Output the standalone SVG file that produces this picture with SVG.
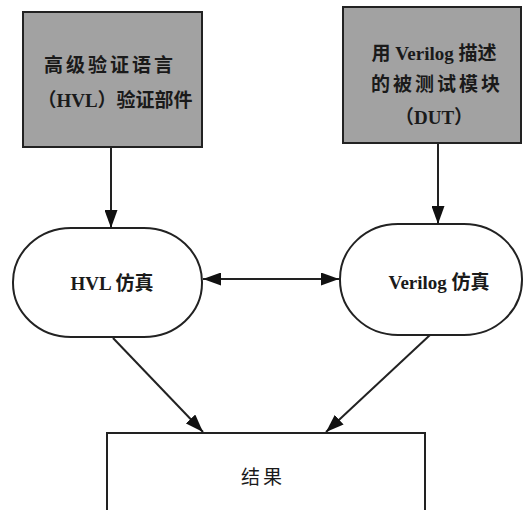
<svg xmlns="http://www.w3.org/2000/svg" width="526" height="510" viewBox="0 0 526 510">
<style>
.box{fill:#a2a2a2;stroke:#222;stroke-width:2}
.term{fill:#fff;stroke:#222;stroke-width:2}
.t{font-family:"Liberation Serif","Noto Sans CJK SC",serif;fill:#1a1a1a;text-anchor:middle;dominant-baseline:central}
.b{font-weight:bold}
.c{stroke:#222;stroke-width:2;fill:none}
</style>
<defs>
<marker id="ah" viewBox="0 0 18 13" refX="18" refY="6.5" markerWidth="18" markerHeight="13" markerUnits="userSpaceOnUse" orient="auto-start-reverse">
<path d="M0,0 L18,6.5 L0,13 z" fill="#111"/>
</marker>
</defs>
<rect width="526" height="510" fill="#fff"/>
<g id="hvl-comp">
<rect class="box" x="23" y="12" width="179" height="135"/>
<text class="t b" x="110" y="65" font-size="19" letter-spacing="3">高级验证语言</text>
<text class="t b" x="115" y="100" font-size="19">（HVL）验证部件</text>
</g>
<g id="dut">
<rect class="box" x="343" y="7" width="178" height="136"/>
<text class="t b" x="434" y="53" font-size="19">用 Verilog 描述</text>
<text class="t b" x="437" y="84" font-size="19" letter-spacing="3">的被测试模块</text>
<text class="t b" x="434" y="117" font-size="19">（DUT）</text>
</g>
<g id="hvl-sim">
<rect class="term" x="13" y="228" width="189" height="109" rx="58" ry="54"/>
<text class="t" x="112" y="283" font-size="19" font-weight="600">HVL 仿真</text>
</g>
<g id="verilog-sim">
<rect class="term" x="340" y="224" width="182" height="111" rx="58" ry="55"/>
<text class="t" x="439" y="282" font-size="19" font-weight="600">Verilog 仿真</text>
</g>
<g id="result">
<rect class="term" x="107" y="433" width="318" height="85"/>
<text class="t" x="263" y="477" font-size="19" letter-spacing="3">结果</text>
</g>
<g id="connectors">
<line class="c" x1="111" y1="147" x2="111" y2="228" marker-end="url(#ah)"/>
<line class="c" x1="438" y1="143" x2="438" y2="224" marker-end="url(#ah)"/>
<line class="c" x1="203" y1="279" x2="339" y2="279" marker-start="url(#ah)" marker-end="url(#ah)"/>
<line class="c" x1="113" y1="338" x2="203" y2="432" marker-end="url(#ah)"/>
<line class="c" x1="430" y1="335" x2="326" y2="432" marker-end="url(#ah)"/>
</g>
</svg>
